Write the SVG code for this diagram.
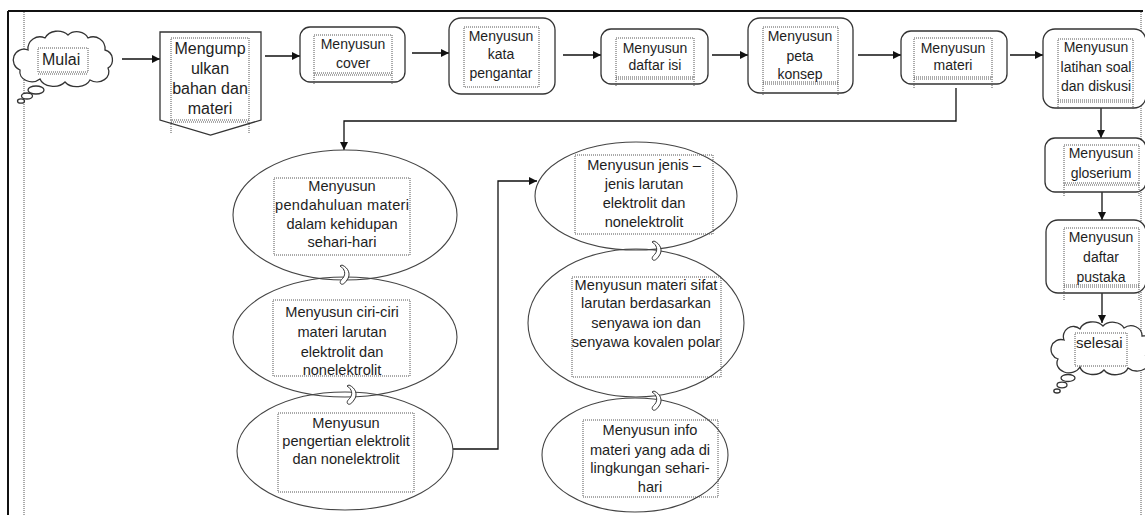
<svg xmlns="http://www.w3.org/2000/svg" width="1145" height="515" viewBox="0 0 1145 515">
<defs>
<style>
.t{font-family:"Liberation Sans",Arial,sans-serif;font-size:14px;fill:#1e1e1e;text-anchor:middle}
.big{font-size:16px}
.e{font-size:14.6px}
.box{fill:#fff;stroke:#333;stroke-width:1.3}
.ell{fill:none;stroke:#444;stroke-width:1.1}
.dot{fill:none;stroke:#555;stroke-width:1;stroke-dasharray:1 1}
.con{fill:none;stroke:#111;stroke-width:1.3}
.sq{fill:#fff;stroke:#333;stroke-width:1}
</style>
<marker id="ah" viewBox="0 0 10 10" refX="10" refY="5" markerWidth="8" markerHeight="8" markerUnits="userSpaceOnUse" orient="auto">
<path d="M0,0 L10,5 L0,10 Z" fill="#111"/>
</marker>
<clipPath id="clipSel"><rect x="1075" y="333" width="52" height="33"/></clipPath>
</defs>
<rect width="1145" height="515" fill="#fff"/>
<g id="frame">
<line x1="8" y1="11" x2="1143" y2="11" stroke="#111" stroke-width="2"/>
<line x1="8" y1="11" x2="8" y2="515" stroke="#111" stroke-width="2"/>
<line x1="24" y1="12" x2="24" y2="515" class="dot"/>
<line x1="1141" y1="12" x2="1141" y2="515" class="dot"/>
</g>
<g id="connectors">
<line x1="122" y1="59" x2="160" y2="59" class="con" marker-end="url(#ah)"/>
<line x1="265" y1="56" x2="300" y2="56" class="con" marker-end="url(#ah)"/>
<line x1="412" y1="53" x2="449" y2="53" class="con" marker-end="url(#ah)"/>
<line x1="563" y1="55" x2="601" y2="55" class="con" marker-end="url(#ah)"/>
<line x1="712" y1="55" x2="748" y2="55" class="con" marker-end="url(#ah)"/>
<line x1="858" y1="55" x2="901" y2="55" class="con" marker-end="url(#ah)"/>
<line x1="1010" y1="55" x2="1043" y2="55" class="con" marker-end="url(#ah)"/>
<line x1="1101" y1="108" x2="1101" y2="138" class="con" marker-end="url(#ah)"/>
<line x1="1102" y1="192" x2="1102" y2="220" class="con" marker-end="url(#ah)"/>
<line x1="1102" y1="293" x2="1102" y2="323" class="con" marker-end="url(#ah)"/>
<path d="M956,88 V121 H344 V150" class="con" marker-end="url(#ah)"/>
<path d="M453,449 H498 V181 H537" class="con" marker-end="url(#ah)"/>
</g>
<g id="mulai">
<path class="box" d="M28,50 A12,12 0 0 1 45,38 A14,12 0 0 1 68,35 A12,10 0 0 1 88,38 A12,12 0 0 1 105,50 A10,10 0 0 1 108,68 A12,10 0 0 1 90,80 A14,10 0 0 1 65,82 A14,10 0 0 1 40,79 A12,10 0 0 1 20,70 A10,10 0 0 1 28,50 Z"/>
<ellipse cx="36" cy="90" rx="8" ry="4" class="box" stroke-width="1"/>
<ellipse cx="27" cy="96" rx="5.5" ry="3" class="box" stroke-width="1"/>
<ellipse cx="21" cy="101" rx="3.5" ry="2.2" class="box" stroke-width="1"/>
<rect x="38" y="48" width="50" height="24" class="dot"/>
<line x1="38" y1="74" x2="88" y2="74" class="dot"/>
<text x="42" y="65" class="t big" style="text-anchor:start">Mulai</text>
</g>
<g id="mengumpulkan">
<path class="box" d="M160,32 H261 V120 L210.5,135 L160,120 Z"/>
<rect x="171" y="38" width="78" height="82" class="dot"/>
<line x1="171" y1="122" x2="249" y2="122" class="dot"/>
<line x1="171" y1="120" x2="171" y2="133" class="dot"/>
<line x1="249" y1="120" x2="249" y2="133" class="dot"/>
<text class="t big" x="210" y="54">Mengump</text>
<text class="t big" x="210" y="74">ulkan</text>
<text class="t big" x="210" y="94">bahan dan</text>
<text class="t big" x="210" y="114">materi</text>
</g>
<g id="cover">
<rect x="300" y="27" width="105" height="55" rx="10" class="box"/>
<rect x="314" y="35" width="78" height="38" class="dot"/>
<line x1="314" y1="75" x2="392" y2="75" class="dot"/>
<line x1="314" y1="73" x2="314" y2="85" class="dot"/>
<line x1="392" y1="73" x2="392" y2="85" class="dot"/>
<text class="t" x="353" y="49">Menyusun</text>
<text class="t" x="353" y="68">cover</text>
</g>
<g id="kata">
<rect x="449" y="18" width="106" height="76" rx="12" class="box"/>
<rect x="464" y="27" width="75" height="60" class="dot"/>
<text class="t" x="501" y="41">Menyusun</text>
<text class="t" x="501" y="59">kata</text>
<text class="t" x="501" y="78">pengantar</text>
</g>
<g id="daftarisi">
<rect x="601" y="29" width="107" height="55" rx="10" class="box"/>
<rect x="616" y="38" width="78" height="39" class="dot"/>
<line x1="616" y1="79" x2="694" y2="79" class="dot"/>
<line x1="616" y1="77" x2="616" y2="87" class="dot"/>
<line x1="694" y1="77" x2="694" y2="87" class="dot"/>
<text class="t" x="655" y="53">Menyusun</text>
<text class="t" x="655" y="70">daftar isi</text>
</g>
<g id="peta">
<rect x="748" y="18" width="105" height="75" rx="12" class="box"/>
<rect x="763" y="27" width="75" height="55" class="dot"/>
<line x1="763" y1="84" x2="838" y2="84" class="dot"/>
<line x1="763" y1="82" x2="763" y2="96" class="dot"/>
<line x1="838" y1="82" x2="838" y2="96" class="dot"/>
<text class="t" x="800" y="41">Menyusun</text>
<text class="t" x="800" y="61">peta</text>
<text class="t" x="800" y="79">konsep</text>
</g>
<g id="materi">
<rect x="901" y="31" width="106" height="53" rx="10" class="box"/>
<rect x="914" y="38" width="78" height="39" class="dot"/>
<line x1="914" y1="79" x2="992" y2="79" class="dot"/>
<line x1="914" y1="77" x2="914" y2="89" class="dot"/>
<line x1="992" y1="77" x2="992" y2="89" class="dot"/>
<text class="t" x="953" y="53">Menyusun</text>
<text class="t" x="953" y="70">materi</text>
</g>
<g id="latihan">
<rect x="1043" y="29" width="103" height="79" rx="12" class="box"/>
<rect x="1058" y="39" width="75" height="61" class="dot"/>
<line x1="1058" y1="102" x2="1133" y2="102" class="dot"/>
<line x1="1058" y1="100" x2="1058" y2="110" class="dot"/>
<line x1="1133" y1="100" x2="1133" y2="110" class="dot"/>
<text class="t" x="1096" y="52">Menyusun</text>
<text class="t" x="1096" y="72">latihan soal</text>
<text class="t" x="1096" y="91">dan diskusi</text>
</g>
<g id="gloserium">
<rect x="1045" y="138" width="101" height="54" rx="10" class="box"/>
<rect x="1064" y="145" width="75" height="38" class="dot"/>
<line x1="1064" y1="185" x2="1139" y2="185" class="dot"/>
<line x1="1064" y1="183" x2="1064" y2="196" class="dot"/>
<line x1="1139" y1="183" x2="1139" y2="196" class="dot"/>
<text class="t" x="1101" y="158">Menyusun</text>
<text class="t" x="1101" y="178">gloserium</text>
</g>
<g id="pustaka">
<rect x="1046" y="220" width="100" height="73" rx="12" class="box"/>
<rect x="1064" y="228" width="75" height="57" class="dot"/>
<line x1="1064" y1="287" x2="1139" y2="287" class="dot"/>
<line x1="1064" y1="285" x2="1064" y2="300" class="dot"/>
<line x1="1139" y1="285" x2="1139" y2="300" class="dot"/>
<text class="t" x="1101" y="242">Menyusun</text>
<text class="t" x="1101" y="262">daftar</text>
<text class="t" x="1101" y="282">pustaka</text>
</g>
<g id="selesai">
<path class="box" d="M1064,340 A10,10 0 0 1 1080,329 A13,10 0 0 1 1103,326 A12,9 0 0 1 1124,328 A11,10 0 0 1 1142,336 A9,9 0 0 1 1146,356 A12,9 0 0 1 1128,368 A13,9 0 0 1 1104,370 A13,9 0 0 1 1080,367 A11,9 0 0 1 1058,359 A9,9 0 0 1 1064,340 Z"/>
<ellipse cx="1068" cy="378" rx="7" ry="3.5" class="box" stroke-width="1"/>
<ellipse cx="1062" cy="385" rx="5" ry="2.8" class="box" stroke-width="1"/>
<ellipse cx="1057" cy="391" rx="3.2" ry="2" class="box" stroke-width="1"/>
<rect x="1075" y="333" width="52" height="33" class="dot"/>
<text class="t" x="1076" y="348" style="text-anchor:start;font-size:15px" clip-path="url(#clipSel)">selesai</text>
</g>
<g id="pendahuluan">
<ellipse cx="345" cy="215" rx="112" ry="65" class="ell"/>
<rect x="274" y="178" width="136" height="77" class="dot"/>
<text class="t e" x="342" y="191">Menyusun</text>
<text class="t e" x="342" y="210" textLength="134" lengthAdjust="spacing">pendahuluan materi</text>
<text class="t e" x="342" y="229">dalam kehidupan</text>
<text class="t e" x="342" y="247">sehari-hari</text>
</g>
<g id="ciri">
<ellipse cx="345" cy="337" rx="112" ry="60" class="ell"/>
<rect x="273" y="300" width="137" height="76" class="dot"/>
<text class="t e" x="342" y="317">Menyusun ciri-ciri</text>
<text class="t e" x="342" y="337">materi larutan</text>
<text class="t e" x="342" y="357">elektrolit dan</text>
<text class="t e" x="342" y="375">nonelektrolit</text>
</g>
<g id="pengertian">
<ellipse cx="345" cy="451" rx="108" ry="59" class="ell"/>
<rect x="278" y="413" width="136" height="79" class="dot"/>
<text class="t e" x="346" y="428">Menyusun</text>
<text class="t e" x="346" y="446">pengertian elektrolit</text>
<text class="t e" x="346" y="464">dan nonelektrolit</text>
</g>
<g id="jenis">
<ellipse cx="636" cy="196" rx="101" ry="54" class="ell"/>
<rect x="575" y="155" width="138" height="79" class="dot"/>
<text class="t e" x="644" y="170">Menyusun jenis –</text>
<text class="t e" x="644" y="189">jenis larutan</text>
<text class="t e" x="644" y="208">elektrolit dan</text>
<text class="t e" x="644" y="227">nonelektrolit</text>
</g>
<g id="sifat">
<ellipse cx="636" cy="323" rx="108" ry="74" class="ell"/>
<rect x="572" y="277" width="149" height="100" class="dot"/>
<text class="t e" x="646" y="290">Menyusun materi sifat</text>
<text class="t e" x="646" y="308">larutan berdasarkan</text>
<text class="t e" x="646" y="328">senyawa ion dan</text>
<text class="t e" x="646" y="347">senyawa kovalen polar</text>
</g>
<g id="info">
<ellipse cx="635" cy="455" rx="93" ry="57" class="ell"/>
<rect x="583" y="420" width="135" height="77" class="dot"/>
<text class="t e" x="650" y="435">Menyusun info</text>
<text class="t e" x="650" y="455">materi yang ada di</text>
<text class="t e" x="650" y="473">lingkungan sehari-</text>
<text class="t e" x="650" y="492">hari</text>
</g>
<g id="links">
<path class="sq" transform="translate(342,265)" d="M0,0 C7,3 9,10 5,15 C3,18 1,20 -1,19 C-3,17 -1,15 1,13 C4,9 3,4 -2,1 Z"/>
<path class="sq" transform="translate(349,385)" d="M0,0 C7,3 9,10 5,15 C3,18 1,20 -1,19 C-3,17 -1,15 1,13 C4,9 3,4 -2,1 Z"/>
<path class="sq" transform="translate(654,241)" d="M0,0 C7,3 9,10 5,15 C3,18 1,20 -1,19 C-3,17 -1,15 1,13 C4,9 3,4 -2,1 Z"/>
<path class="sq" transform="translate(654,391)" d="M0,0 C7,3 9,10 5,15 C3,18 1,20 -1,19 C-3,17 -1,15 1,13 C4,9 3,4 -2,1 Z"/>
</g>
</svg>
